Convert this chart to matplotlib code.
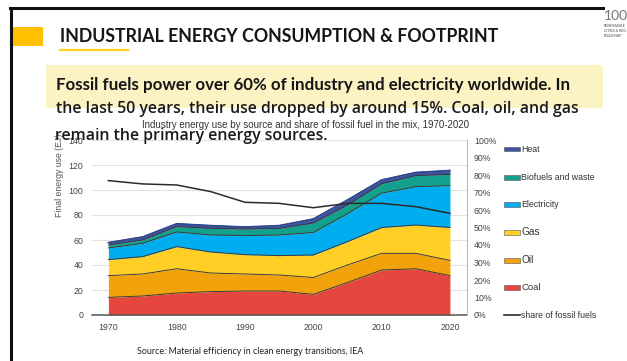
import numpy as np
import matplotlib
matplotlib.use("Agg")
import matplotlib.pyplot as plt
from matplotlib.patches import Rectangle
from matplotlib.lines import Line2D

# Industry final energy use by source (EJ) and fossil share (%), 1970-2020
years = [1970, 1975, 1980, 1985, 1990, 1995, 2000, 2005, 2010, 2015, 2020]
coal = [14.1, 15.2, 17.6, 18.7, 19.2, 19.2, 16.5, 26.0, 36.0, 37.0, 31.5]
oil = [17.4, 17.6, 19.4, 14.9, 13.6, 12.8, 13.5, 14.0, 13.3, 12.3, 12.2]
gas = [12.8, 13.9, 17.7, 16.8, 15.5, 15.5, 18.0, 18.7, 20.7, 22.7, 26.3]
electricity = [9.3, 10.6, 11.7, 13.6, 15.2, 16.5, 18.0, 22.3, 27.5, 30.7, 33.5]
biofuels = [2.4, 2.7, 4.3, 5.3, 5.3, 5.3, 7.5, 7.0, 7.5, 8.8, 9.0]
heat = [1.9, 2.4, 2.3, 2.2, 1.6, 2.2, 3.3, 4.0, 3.0, 2.5, 3.1]
fossil_share = [76.8, 74.9, 74.3, 70.5, 64.4, 63.8, 61.3, 63.8, 63.8, 61.9, 58.1]

series_names = ["Coal", "Oil", "Gas", "Electricity", "Biofuels and waste", "Heat"]
series_colors = ["#E5473F", "#F2A30C", "#FFCF26", "#00AEEF", "#13A08C", "#3B54A0"]

left_ticks = [0, 20, 40, 60, 80, 100, 120, 140]
right_ticks = [0, 10, 20, 30, 40, 50, 60, 70, 80, 90, 100]
x_ticks = [1970, 1980, 1990, 2000, 2010, 2020]

W, H = 627, 361
fig = plt.figure(figsize=(W / 100, H / 100), dpi=100)
fig.patch.set_facecolor("white")


def fx(px):
    return px / W


def fy(py):
    return 1 - py / H


# --- slide decoration ---
fig.add_artist(Line2D([fx(10), fx(603)], [fy(8), fy(8)], color="#111111", lw=2.2))
fig.add_artist(Line2D([fx(11), fx(11)], [fy(8), fy(361)], color="#111111", lw=2.2))
fig.add_artist(Rectangle((fx(12), fy(46)), fx(31), 19 / H, color="#FFC000", lw=0))
fig.add_artist(Line2D([fx(60), fx(128)], [fy(50), fy(50)], color="#FFD21F", lw=1.6))
fig.text(fx(60), fy(37), "INDUSTRIAL ENERGY CONSUMPTION & FOOTPRINT", family="Lato",
         weight="bold", fontsize=12.8, color="#151515", va="center", ha="left")

# logo
fig.text(fx(604), fy(16), "100", family="Lato", fontsize=10, color="#777777",
         va="center", ha="left")
for yy, s in [(26, "RENEWABLE"), (31, "CITIES & REG"), (36, "ROADMAP")]:
    fig.text(fx(604), fy(yy), s, family="Lato", weight="bold", fontsize=2.6,
             color="#777777", va="center", ha="left")

# highlight box
fig.add_artist(Rectangle((fx(46), fy(108)), fx(557), 43 / H, color="#FCF3C4", lw=0))
fig.text(fx(56), fy(85), "Fossil fuels power over 60% of industry and electricity worldwide. In",
         family="Lato", weight="bold", fontsize=12.2, color="#151515", va="center", ha="left")
fig.text(fx(56), fy(113), "the last 50 years, their use dropped by around 15%. Coal, oil, and gas",
         family="Open Sans", weight="semibold", fontsize=11.4, color="#1a1a1a",
         va="baseline", ha="left")
fig.text(fx(55), fy(140), "remain the primary energy sources.",
         family="Open Sans", weight="semibold", fontsize=11.4, color="#1a1a1a",
         va="baseline", ha="left", zorder=10)

# --- chart ---
fig.text(fx(305), fy(125), "Industry energy use by source and share of fossil fuel in the mix, 1970-2020",
         family="Liberation Sans", fontsize=7.0, color="#333333", va="center", ha="center")

ax = fig.add_axes([fx(92), fy(315), (467 - 92) / W, (315 - 140) / H])
stack = np.vstack([coal, oil, gas, electricity, biofuels, heat])
tops = np.cumsum(stack, axis=0)
bottom = np.zeros(len(years))
for i in range(len(series_names)):
    ax.fill_between(years, bottom, tops[i], color=series_colors[i], lw=0, zorder=2)
    bottom = tops[i]
for i in range(len(series_names)):
    ax.plot(years, tops[i], color="#3a3a3a", lw=0.7, zorder=3)
ax.plot(years, tops[-1], color="#2E4590", lw=1.2, zorder=3)

ax.set_xlim(1967.6, 2022.5)
ax.set_ylim(0, 140)
ax.set_yticks(left_ticks)
ax.set_xticks(x_ticks)
ax.grid(axis="y", color="#e2e2e2", lw=0.8, zorder=0)
ax.set_axisbelow(True)
for side in ["left", "top", "right"]:
    ax.spines[side].set_visible(False)
ax.spines["bottom"].set_color("#555555")
ax.spines["bottom"].set_linewidth(1.1)
ax.tick_params(axis="y", length=0, pad=6.3, labelsize=6.3, labelcolor="#444444")
ax.tick_params(axis="x", length=0, pad=6, labelsize=6.3, labelcolor="#444444")
for lab in ax.get_xticklabels() + ax.get_yticklabels():
    lab.set_family("Liberation Sans")

ax2 = ax.twinx()
ax2.set_ylim(0, 100)
ax2.set_yticks(right_ticks)
ax2.set_yticklabels([f"{t}%" for t in right_ticks])
ax2.plot(years, fossil_share, color="#2b2b2b", lw=1.1, zorder=4)
for side in ["left", "top", "bottom"]:
    ax2.spines[side].set_visible(False)
ax2.spines["right"].set_color("#bbbbbb")
ax2.spines["right"].set_linewidth(0.8)
ax2.tick_params(axis="y", length=0, pad=5, labelsize=6.3, labelcolor="#444444")
for lab in ax2.get_yticklabels():
    lab.set_family("Liberation Sans")

fig.text(fx(60), fy(175), "Final energy use (EJ)", rotation=90, family="Liberation Sans",
         fontsize=6.3, color="#555555", va="center", ha="center")

# legend, top to bottom
legend_rows = [149, 177, 204, 232, 260, 287]
patch_heights = [3.5, 5, 5, 5, 5, 5]
label_sizes = [6.3, 6.3, 6.3, 7.3, 7.3, 6.8]
for k, i in enumerate(range(len(series_names) - 1, -1, -1)):
    yc = legend_rows[k]
    hgt = patch_heights[k]
    fig.add_artist(Rectangle((fx(504), fy(yc + hgt / 2)), 16 / W, hgt / H,
                             facecolor=series_colors[i], edgecolor="#555555", lw=0.4))
    fig.text(fx(521), fy(yc), series_names[i], family="Liberation Sans",
             fontsize=label_sizes[k], color="#333333", va="center", ha="left")
fig.add_artist(Line2D([fx(504), fx(520)], [fy(315), fy(315)], color="#2b2b2b", lw=1.2))
fig.text(fx(521), fy(315), "share of fossil fuels", family="Liberation Sans",
         fontsize=6.3, color="#333333", va="center", ha="left")

fig.text(fx(137), fy(351), "Source: Material efficiency in clean energy transitions, IEA",
         family="Lato", fontsize=6.4, color="#222222", va="center", ha="left")

fig.savefig("out.png", dpi=100)
plt.close(fig)
